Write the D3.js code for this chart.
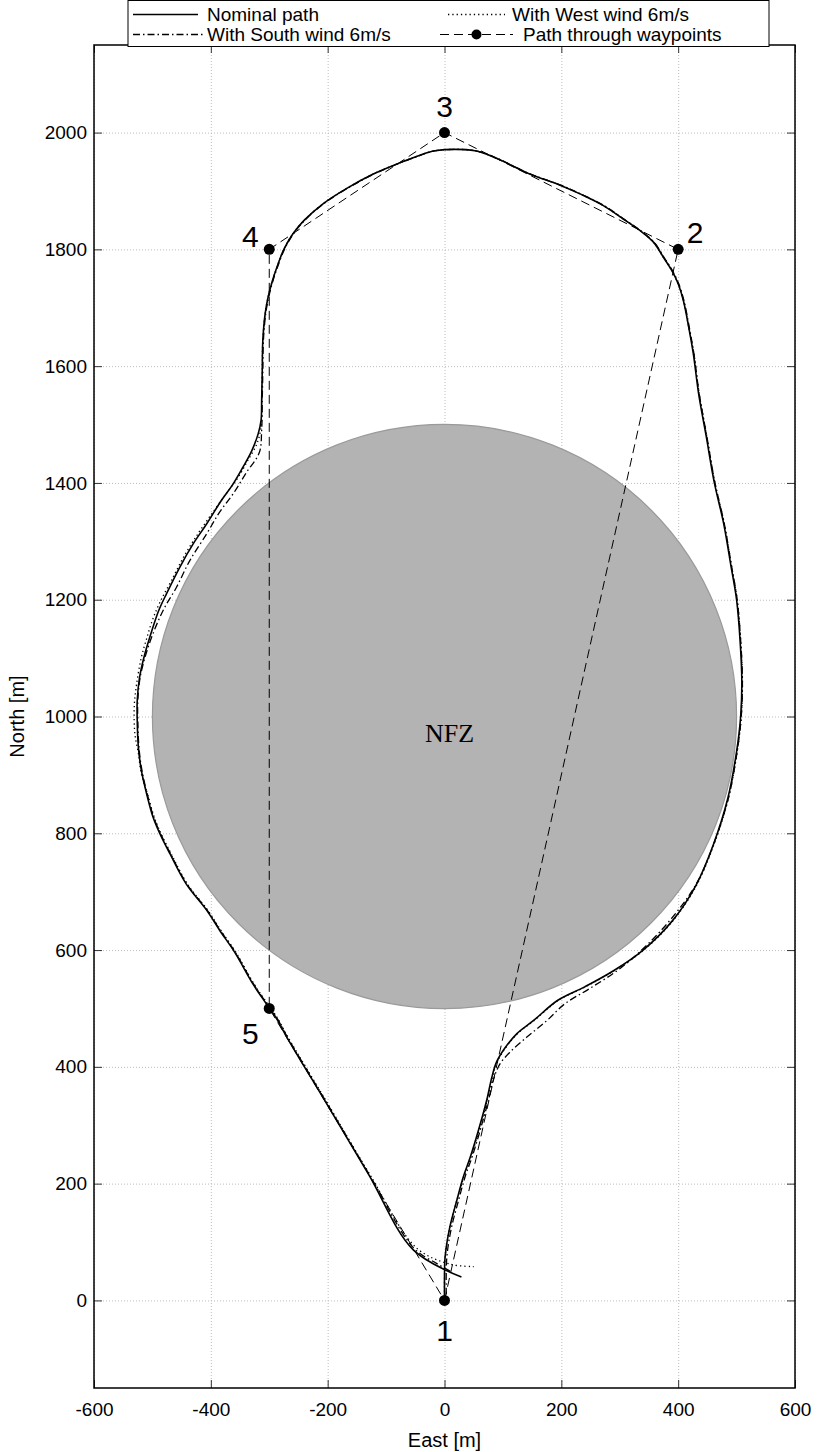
<!DOCTYPE html>
<html>
<head>
<meta charset="utf-8">
<script src="https://cdn.jsdelivr.net/npm/d3@7"></script>
<style>
body { margin: 0; background: #fff; }
svg { font-family: "Liberation Sans", Arial, sans-serif; }
</style>
</head>
<body>
<svg id="chart" width="817" height="1452"></svg>
<script>
// axis ticks
var xTicks = [-600, -400, -200, 0, 200, 400, 600];
var yTicks = [0, 200, 400, 600, 800, 1000, 1200, 1400, 1600, 1800, 2000];

// no fly zone (east, north) and radius in metres
var nfzCenter = [0, 1000];
var nfzRadius = 500;

// waypoints, visited in order and back to 1
var waypoints = [[0, 0], [400, 1800], [0, 2000], [-300, 1800], [-300, 500], [0, 0]];
var waypointNames = ["1", "2", "3", "4", "5"];

// flown paths [east, north]
var nominalPath = [
  [0, 0], [0, 40], [1, 74], [9, 125], [21, 171], [32, 211], [44, 245], [58, 291], [72, 342],
  [81, 382], [89, 408], [104, 433], [124, 457], [152, 479], [194, 514], [240, 537], [290, 565],
  [340, 600], [390, 650], [430, 710], [460, 780], [485, 860], [500, 940], [507, 1000],
  [509, 1060], [506, 1130], [500, 1200], [490, 1260], [478, 1330], [462, 1400], [448, 1480],
  [435, 1553], [426, 1621], [418, 1667], [409, 1712], [400, 1741], [389, 1764], [375, 1786],
  [358, 1812], [335, 1832], [306, 1852], [272, 1875], [232, 1895], [198, 1910], [146, 1929],
  [89, 1956], [52, 1969], [-16, 1969], [-48, 1959], [-82, 1946], [-122, 1929], [-168, 1904],
  [-208, 1878], [-240, 1850], [-260, 1826], [-275, 1800], [-286, 1772], [-295, 1745],
  [-302, 1718], [-307, 1690], [-311, 1644], [-312, 1590], [-313, 1541], [-314, 1507], [-319, 1484],
  [-330, 1455], [-345, 1427], [-362, 1398], [-382, 1370], [-407, 1330], [-430, 1296],
  [-453, 1256], [-476, 1210], [-489, 1182], [-501, 1147], [-513, 1107], [-522, 1067],
  [-526, 1027], [-526, 993], [-524, 947], [-519, 908], [-510, 868], [-499, 828], [-487, 799],
  [-470, 765], [-442, 713], [-407, 668], [-385, 634], [-359, 596], [-328, 542], [-305, 508],
  [-287, 482], [-270, 451], [-200, 334], [-130, 216], [-53, 86], [29, 40]
];

var westWindPath = [
  [0, 0], [0, 40], [1, 74], [9, 125], [21, 171], [33, 211], [45, 245], [59, 291], [73, 342],
  [82, 382], [90, 408], [105, 433], [125, 457], [153, 479], [195, 514], [241, 537], [291, 565],
  [341, 600], [391, 650], [431, 710], [461, 780], [486, 860], [501, 940], [508, 1000],
  [510, 1060], [507, 1130], [501, 1200], [491, 1260], [479, 1330], [463, 1400], [449, 1480],
  [436, 1553], [427, 1621], [418, 1667], [409, 1712], [400, 1741], [389, 1764], [375, 1786],
  [358, 1812], [335, 1832], [306, 1852], [272, 1875], [232, 1895], [198, 1910], [146, 1929],
  [89, 1956], [52, 1969], [-16, 1969], [-48, 1959], [-82, 1946], [-122, 1929], [-168, 1904],
  [-208, 1878], [-240, 1850], [-260, 1826], [-275, 1800], [-286, 1772], [-295, 1745],
  [-302, 1718], [-307, 1690], [-311, 1644], [-312, 1590], [-313, 1541], [-314, 1495], [-322, 1465],
  [-337, 1438], [-353, 1410], [-372, 1384], [-395, 1352], [-420, 1316], [-445, 1276],
  [-468, 1232], [-487, 1196], [-500, 1165], [-510, 1133], [-519, 1101], [-527, 1056],
  [-531, 1019], [-530, 970], [-524, 937], [-519, 902], [-508, 866], [-497, 828], [-485, 799],
  [-468, 765], [-440, 713], [-405, 668], [-383, 634], [-357, 596], [-326, 542], [-303, 508],
  [-285, 482], [-268, 451], [-198, 334], [-128, 216], [-48, 90], [10, 62], [50, 58]
];

var southWindPath = [
  [3, 10], [4, 74], [12, 125], [24, 171], [35, 211], [47, 245], [61, 291], [75, 342],
  [85, 382], [95, 405], [112, 425], [141, 451], [175, 479], [206, 508], [250, 535],
  [300, 568], [350, 612], [395, 662], [432, 715], [461, 782], [486, 860], [501, 940],
  [508, 1000], [510, 1060], [507, 1130], [501, 1200], [491, 1260], [479, 1330], [463, 1400],
  [449, 1480], [436, 1553], [427, 1621], [419, 1667], [410, 1712], [401, 1741], [390, 1764],
  [376, 1786], [359, 1812], [336, 1832], [307, 1852], [273, 1875], [233, 1895], [199, 1910],
  [147, 1929], [90, 1956], [53, 1969], [-15, 1969], [-47, 1959], [-81, 1946], [-121, 1929],
  [-167, 1904], [-207, 1878], [-239, 1850], [-259, 1826], [-274, 1800], [-285, 1772],
  [-294, 1745], [-301, 1718], [-306, 1690], [-310, 1644], [-311, 1590], [-312, 1541], [-313, 1490],
  [-317, 1452], [-339, 1418], [-362, 1381], [-385, 1350], [-407, 1313], [-436, 1267],
  [-459, 1221], [-480, 1185], [-497, 1147], [-511, 1107], [-521, 1067], [-525, 1027],
  [-525, 993], [-523, 947], [-518, 908], [-509, 868], [-498, 828], [-486, 799], [-469, 765],
  [-441, 713], [-406, 668], [-384, 634], [-358, 596], [-327, 542], [-304, 508], [-286, 482],
  [-269, 451], [-199, 334], [-129, 216], [-53, 90], [-13, 63], [10, 50]
];

var legendLabels = ["Nominal path", "With West wind 6m/s", "With South wind 6m/s", "Path through waypoints"];

var svg = d3.select("#chart"),
    margin = {top: 45, right: 22, bottom: 64, left: 94},
    width = +svg.attr("width") - margin.left - margin.right,
    height = +svg.attr("height") - margin.top - margin.bottom,
    g = svg.append("g").attr("transform", "translate(" + margin.left + "," + margin.top + ")");

var x = d3.scaleLinear().domain([-600, 600]).range([0, width]);
var y = d3.scaleLinear().domain([-150, 2150]).range([height, 0]);

// grid
g.append("g")
  .attr("transform", "translate(0," + height + ")")
  .call(d3.axisBottom(x).tickValues(xTicks).tickSize(-height).tickFormat(""))
  .call(function(a) {
    a.select(".domain").remove();
    a.selectAll(".tick line").attr("stroke", "#bdbdbd").attr("stroke-dasharray", "1,2");
  });
g.append("g")
  .call(d3.axisLeft(y).tickValues(yTicks).tickSize(-width).tickFormat(""))
  .call(function(a) {
    a.select(".domain").remove();
    a.selectAll(".tick line").attr("stroke", "#bdbdbd").attr("stroke-dasharray", "1,2");
  });

// no fly zone
g.append("circle")
  .attr("cx", x(nfzCenter[0]))
  .attr("cy", y(nfzCenter[1]))
  .attr("r", x(nfzRadius) - x(0))
  .attr("fill", "#b3b3b3")
  .attr("stroke", "#9a9a9a")
  .attr("stroke-width", 1.2);

g.append("text")
  .attr("x", x(nfzCenter[0]) + 5)
  .attr("y", y(nfzCenter[1]) + 25)
  .attr("text-anchor", "middle")
  .attr("font-family", "'Liberation Serif', 'Times New Roman', serif")
  .attr("font-size", 26)
  .text("NFZ");

var line = d3.line()
    .x(function(d) { return x(d[0]); })
    .y(function(d) { return y(d[1]); })
    .curve(d3.curveCatmullRom);

// waypoint path
g.append("path")
  .datum(waypoints)
  .attr("fill", "none")
  .attr("stroke", "black")
  .attr("stroke-width", 1)
  .attr("stroke-dasharray", "9,5")
  .attr("d", d3.line().x(function(d) { return x(d[0]); }).y(function(d) { return y(d[1]); }));

g.append("path")
  .datum(westWindPath)
  .attr("fill", "none")
  .attr("stroke", "black")
  .attr("stroke-width", 1.3)
  .attr("stroke-dasharray", "1.3,3")
  .attr("d", line);

g.append("path")
  .datum(southWindPath)
  .attr("fill", "none")
  .attr("stroke", "black")
  .attr("stroke-width", 1.3)
  .attr("stroke-dasharray", "7,3,1.5,3")
  .attr("d", line);

g.append("path")
  .datum(nominalPath)
  .attr("fill", "none")
  .attr("stroke", "black")
  .attr("stroke-width", 1.6)
  .attr("stroke-linejoin", "round")
  .attr("d", line);

g.selectAll(".wp")
  .data(waypoints.slice(0, 5))
  .enter().append("circle")
  .attr("class", "wp")
  .attr("cx", function(d) { return x(d[0]); })
  .attr("cy", function(d) { return y(d[1]); })
  .attr("r", 5.5)
  .attr("fill", "black");

var labelOffsets = [[0, 30], [17, -17], [0, -26], [-19, -13], [-19, 25]];
g.selectAll(".wplabel")
  .data(waypoints.slice(0, 5))
  .enter().append("text")
  .attr("x", function(d, i) { return x(d[0]) + labelOffsets[i][0]; })
  .attr("y", function(d, i) { return y(d[1]) + labelOffsets[i][1]; })
  .attr("dy", "0.36em")
  .attr("text-anchor", "middle")
  .attr("font-size", 30)
  .text(function(d, i) { return waypointNames[i]; });

// axes with inward ticks on all four sides
function styleAxis(a) {
  a.select(".domain").remove();
  a.selectAll(".tick line").attr("stroke", "#333").attr("stroke-width", 1);
  a.selectAll(".tick text").attr("fill", "black").attr("font-size", 19);
}
var plain = function(d) { return String(d); };

g.append("g")
  .attr("transform", "translate(0," + height + ")")
  .call(d3.axisBottom(x).tickValues(xTicks).tickFormat(plain).tickSizeInner(-8).tickSizeOuter(0).tickPadding(15))
  .call(styleAxis);
g.append("g")
  .call(d3.axisTop(x).tickValues(xTicks).tickSizeInner(-8).tickSizeOuter(0).tickFormat(""))
  .call(styleAxis);
g.append("g")
  .call(d3.axisLeft(y).tickValues(yTicks).tickFormat(plain).tickSizeInner(-8).tickSizeOuter(0).tickPadding(7))
  .call(styleAxis);
g.append("g")
  .attr("transform", "translate(" + width + ",0)")
  .call(d3.axisRight(y).tickValues(yTicks).tickSizeInner(-8).tickSizeOuter(0).tickFormat(""))
  .call(styleAxis);

g.append("rect")
  .attr("width", width)
  .attr("height", height)
  .attr("fill", "none")
  .attr("stroke", "black")
  .attr("stroke-width", 1.5);

// axis titles
svg.append("text")
  .attr("x", margin.left + width / 2)
  .attr("y", 1447)
  .attr("text-anchor", "middle")
  .attr("font-size", 20)
  .text("East [m]");

svg.append("text")
  .attr("transform", "translate(24," + (margin.top + height / 2) + ") rotate(-90)")
  .attr("text-anchor", "middle")
  .attr("font-size", 20)
  .text("North [m]");

// legend
var lg = svg.append("g").attr("transform", "translate(128,0.5)");
lg.append("rect")
  .attr("width", 641)
  .attr("height", 46)
  .attr("fill", "white")
  .attr("stroke", "black")
  .attr("stroke-width", 1);

var legendItems = [
  {x0: 5, x1: 70, ty: 14, tx: 79, dash: null, w: 1.6},
  {x0: 320, x1: 377, ty: 14, tx: 384, dash: "1.3,3", w: 1.3},
  {x0: 5, x1: 77, ty: 34, tx: 79, dash: "7,3,1.5,3", w: 1.3},
  {x0: 312, x1: 385, ty: 34, tx: 395, dash: "9,5", w: 1, marker: true}
];

legendItems.forEach(function(it, i) {
  lg.append("line")
    .attr("x1", it.x0).attr("x2", it.x1)
    .attr("y1", it.ty).attr("y2", it.ty)
    .attr("stroke", "black")
    .attr("stroke-width", it.w)
    .attr("stroke-dasharray", it.dash);
  if (it.marker) {
    lg.append("circle")
      .attr("cx", (it.x0 + it.x1) / 2).attr("cy", it.ty)
      .attr("r", 5).attr("fill", "black");
  }
  lg.append("text")
    .attr("x", it.tx)
    .attr("y", it.ty + 6.5)
    .attr("font-size", 19)
    .text(legendLabels[i]);
});
</script>
</body>
</html>
